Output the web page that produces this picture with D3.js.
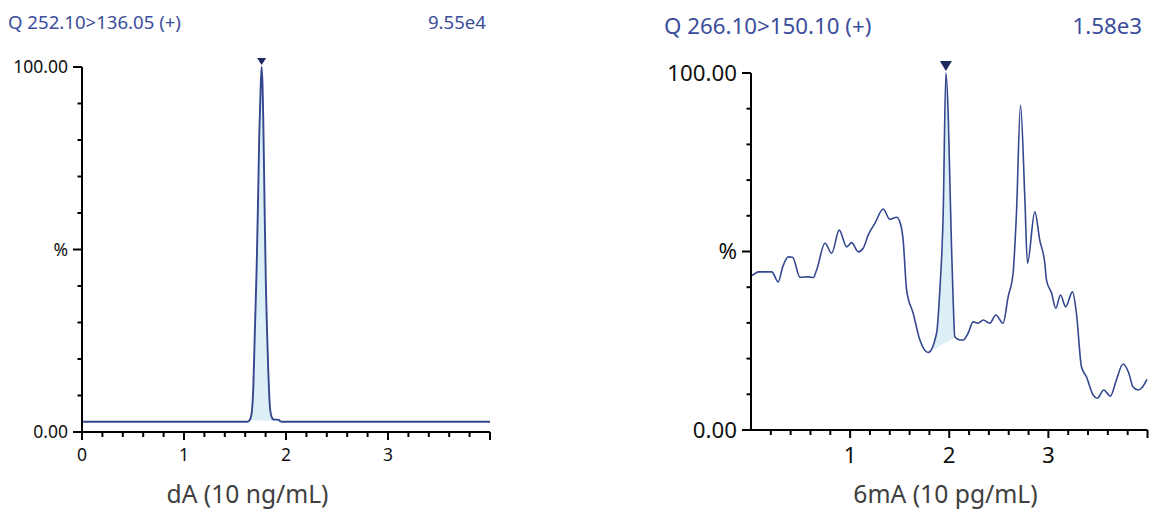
<!DOCTYPE html>
<html>
<head>
<meta charset="utf-8">
<script src="https://cdn.jsdelivr.net/npm/d3@7/dist/d3.min.js"></script>
<style>
  html, body { margin: 0; padding: 0; background: #ffffff; }
  svg { display: block; }
  text { font-family: "Noto Sans", "Open Sans", sans-serif; }
</style>
</head>
<body>
<svg id="chart" width="1150" height="512"></svg>
<script>
// ---- dA chromatogram (Q 252.10>136.05) ----
const dATitle = "Q 252.10>136.05 (+)";
const dAScale = "9.55e4";
const dALabel = "dA (10 ng/mL)";
const dATime = [0, 1.62, 1.645, 1.665, 1.68, 1.695, 1.712, 1.725, 1.738, 1.75, 1.761, 1.77, 1.777, 1.79, 1.803, 1.815, 1.826, 1.842, 1.855, 1.869, 1.89, 1.908, 1.93, 1.945, 1.96, 4.0];
const dASignal = [2.8, 2.8, 3.3, 5.5, 12.7, 28, 44.7, 62, 81.5, 93, 100, 95, 86, 62, 40, 27, 17, 7, 4.5, 3.6, 3.4, 3.4, 3.3, 2.9, 2.8, 2.8];
const dAPeakWindow = [1.645, 1.945];
const dAApex = 1.761;

// ---- 6mA chromatogram (Q 266.10>150.10) ----
const mATitle = "Q 266.10>150.10 (+)";
const mAScale = "1.58e3";
const mALabel = "6mA (10 pg/mL)";
const mATime = [0.0, 0.017, 0.074, 0.209, 0.275, 0.32, 0.376, 0.42, 0.494, 0.578, 0.628, 0.662, 0.746, 0.814, 0.89, 0.965, 1.015, 1.082, 1.132, 1.182, 1.25, 1.334, 1.401, 1.469, 1.502, 1.535, 1.57, 1.636, 1.704, 1.787, 1.872, 1.905, 1.939, 1.966, 1.989, 2.006, 2.023, 2.04, 2.056, 2.107, 2.14, 2.19, 2.241, 2.291, 2.342, 2.409, 2.47, 2.543, 2.594, 2.644, 2.678, 2.719, 2.762, 2.789, 2.863, 2.913, 2.964, 2.981, 3.033, 3.075, 3.122, 3.175, 3.243, 3.283, 3.334, 3.384, 3.451, 3.495, 3.558, 3.626, 3.686, 3.753, 3.812, 3.853, 3.904, 3.938, 3.995];
const mASignal = [43.2, 43.4, 44.3, 44.3, 41.5, 45.7, 48.5, 48.4, 42.8, 42.9, 42.7, 44.8, 52.3, 49.5, 56.0, 51.3, 52.5, 49.9, 50.9, 54.6, 57.9, 61.9, 59.0, 59.6, 58.3, 53.2, 39.2, 32.7, 25.2, 21.7, 27.1, 39.2, 60.7, 100, 88.8, 70.0, 51.3, 36.0, 26.1, 25.2, 25.2, 27.1, 30.3, 29.9, 30.8, 29.9, 32.2, 29.9, 37.3, 43.9, 60.7, 91.0, 65.4, 46.7, 61.1, 53.2, 46.7, 42.0, 38.3, 34.1, 37.8, 34.5, 38.7, 32.7, 17.7, 14.9, 9.8, 8.9, 11.2, 9.5, 14.0, 18.5, 15.9, 12.1, 11.2, 11.7, 14.2];
const mAPeakWindow = [1.787, 2.06];
const mAApex = 1.966;

// shared axis ticks
const xMajor = [0, 1, 2, 3, 4];
const yMajor = [0, 50, 100];
const yMajorLabels = ["0.00", "%", "100.00"];

const svg = d3.select("#chart");

const panels = [
  {
    title: dATitle, scale: dAScale, label: dALabel,
    time: dATime, signal: dASignal, win: dAPeakWindow, apex: dAApex,
    x0: 82, x1: 490, y0: 432, y1: 67,
    titleSize: 18.6, tickSize: 17.5, labelSize: 24.6,
    titleX: 8, titleY: 29, scaleX: 486,
    xLabelY: 461, axisLabelX: 247.5, axisLabelY: 503,
    showZero: true, tri: 9, triH: 7, stroke: 1.9
  },
  {
    title: mATitle, scale: mAScale, label: mALabel,
    time: mATime, signal: mASignal, win: mAPeakWindow, apex: mAApex,
    x0: 751, x1: 1147.5, y0: 430, y1: 73,
    titleSize: 22.3, tickSize: 22.3, labelSize: 24.7,
    titleX: 664, titleY: 34, scaleX: 1142,
    xLabelY: 463, axisLabelX: 945.5, axisLabelY: 503,
    showZero: false, tri: 12, triH: 10, stroke: 1.6
  }
];

const lineColor = "#34478f";
const fillColor = "#dceef6";
const titleColor = "#3b4d9b";

panels.forEach(p => {
  const g = svg.append("g");
  const x = d3.scaleLinear().domain([0, 4]).range([p.x0, p.x1]);
  const y = d3.scaleLinear().domain([0, 100]).range([p.y0, p.y1]);
  const pts = p.time.map((t, i) => [t, p.signal[i]]);

  const lineGen = d3.line().x(d => x(d[0])).y(d => y(d[1])).curve(d3.curveMonotoneX);

  // linear lookup of the signal, used for the integration window end points
  const sigAt = t => {
    const i = d3.bisectLeft(p.time, t);
    if (i <= 0) return p.signal[0];
    if (i >= p.time.length) return p.signal[p.signal.length - 1];
    const ta = p.time[i - 1], tb = p.time[i];
    const f = (t - ta) / (tb - ta);
    return p.signal[i - 1] + f * (p.signal[i] - p.signal[i - 1]);
  };

  // integrated peak area: curve above a straight baseline between the window ends
  const [ws, we] = p.win;
  const vs = sigAt(ws), ve = sigAt(we);
  const inner = pts.filter(d => d[0] > ws && d[0] < we);
  const areaPts = [[ws, vs], ...inner, [we, ve]];
  const base = t => vs + (t - ws) / (we - ws) * (ve - vs);
  const areaGen = d3.area()
    .x(d => x(d[0]))
    .y0(d => y(base(d[0])))
    .y1(d => y(d[1]))
    .curve(d3.curveMonotoneX);
  g.append("path").datum(areaPts).attr("d", areaGen)
    .attr("fill", fillColor).attr("stroke", "none");

  g.append("path").datum(pts).attr("d", lineGen)
    .attr("fill", "none").attr("stroke", lineColor)
    .attr("stroke-width", p.stroke).attr("stroke-linejoin", "round");

  // apex marker
  const ax = x(p.apex), ay = y(100) - 2;
  g.append("path")
    .attr("d", `M${ax - p.tri / 2},${ay - p.triH}L${ax + p.tri / 2},${ay - p.triH}L${ax},${ay}Z`)
    .attr("fill", "#1b2a5e");

  // y axis
  const yAxis = g.append("g");
  yAxis.append("line").attr("x1", p.x0).attr("x2", p.x0)
    .attr("y1", y(100)).attr("y2", y(0))
    .attr("stroke", "#000").attr("stroke-width", 2);
  d3.range(0, 101, 10).forEach(v => {
    const major = yMajor.includes(v);
    yAxis.append("line")
      .attr("x1", p.x0 - (major ? 9 : 4.5)).attr("x2", p.x0)
      .attr("y1", y(v)).attr("y2", y(v))
      .attr("stroke", "#000").attr("stroke-width", 2);
  });
  yMajor.forEach((v, i) => {
    yAxis.append("text")
      .attr("x", p.x0 - 14).attr("y", y(v))
      .attr("dy", "0.35em").attr("text-anchor", "end")
      .attr("font-size", p.tickSize).attr("fill", "#111")
      .text(yMajorLabels[i]);
  });

  // x axis
  const xAxis = g.append("g");
  xAxis.append("line").attr("x1", p.x0 - 1).attr("x2", p.x1)
    .attr("y1", y(0)).attr("y2", y(0))
    .attr("stroke", "#000").attr("stroke-width", 2);
  d3.range(0, 21).map(k => k * 0.2).forEach(t => {
    const major = Math.abs(t - Math.round(t)) < 1e-6;
    if (!p.showZero && t === 0) return;
    xAxis.append("line")
      .attr("x1", x(t)).attr("x2", x(t))
      .attr("y1", y(0)).attr("y2", y(0) + (major ? 8 : 5))
      .attr("stroke", "#000").attr("stroke-width", 2);
  });
  xMajor.filter(t => t < 4 && (p.showZero || t > 0)).forEach(t => {
    xAxis.append("text")
      .attr("x", x(t)).attr("y", p.xLabelY)
      .attr("text-anchor", "middle")
      .attr("font-size", p.tickSize).attr("fill", "#111")
      .text(d3.format("d")(t));
  });

  // titles and axis caption
  g.append("text").attr("x", p.titleX).attr("y", p.titleY)
    .attr("font-size", p.titleSize).attr("fill", titleColor).text(p.title);
  g.append("text").attr("x", p.scaleX).attr("y", p.titleY)
    .attr("text-anchor", "end")
    .attr("font-size", p.titleSize).attr("fill", titleColor).text(p.scale);
  g.append("text").attr("x", p.axisLabelX).attr("y", p.axisLabelY)
    .attr("text-anchor", "middle")
    .attr("font-size", p.labelSize).attr("fill", "#404040").text(p.label);
});
</script>
</body>
</html>
